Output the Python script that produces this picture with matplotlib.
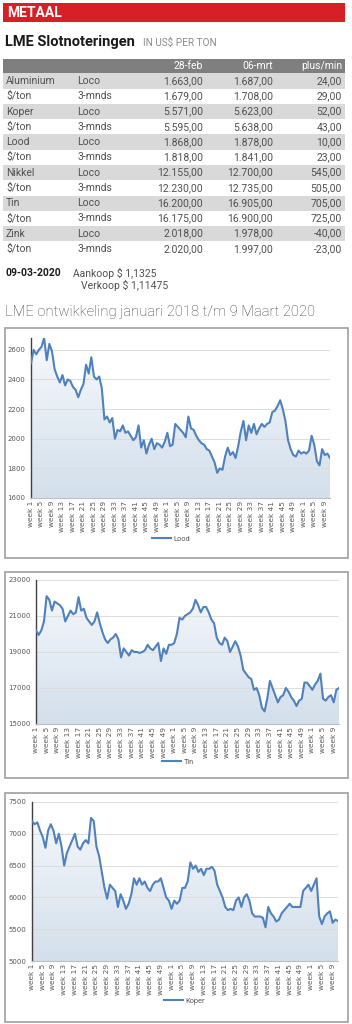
import matplotlib
matplotlib.use('Agg')
import matplotlib.pyplot as plt
import numpy as np
from matplotlib.patches import Rectangle
from matplotlib.lines import Line2D
from matplotlib.colors import LinearSegmentedColormap

# table data
metals = ['Aluminium', '$/ton', 'Koper', '$/ton', 'Lood', '$/ton',
          'Nikkel', '$/ton', 'Tin', '$/ton', 'Zink', '$/ton']
kinds = ['Loco', '3-mnds'] * 6
feb28 = ['1.663,00', '1.679,00', '5.571,00', '5.595,00', '1.868,00', '1.818,00',
         '12.155,00', '12.230,00', '16.200,00', '16.175,00', '2.018,00', '2.020,00']
mrt06 = ['1.687,00', '1.708,00', '5.623,00', '5.638,00', '1.878,00', '1.841,00',
         '12.700,00', '12.735,00', '16.905,00', '16.900,00', '1.978,00', '1.997,00']
plusmin = ['24,00', '29,00', '52,00', '43,00', '10,00', '23,00',
           '545,00', '505,00', '705,00', '725,00', '-40,00', '-23,00']

# weekly LME prices, week 1 2018 .. week 11 2020
lood = [2510, 2600, 2570, 2600, 2620, 2680, 2530, 2640, 2590, 2470,
        2420, 2380, 2430, 2360, 2400, 2390, 2350, 2330, 2280, 2330,
        2370, 2500, 2440, 2550, 2420, 2400, 2420, 2340, 2130, 2150,
        2110, 2140, 2000, 2060, 2050, 2090, 2040, 2050, 2020, 1990,
        2010, 2090, 1940, 1990, 1900, 1960, 2000, 1930, 1970, 1960,
        1940, 1980, 2040, 1950, 1960, 2100, 2080, 2060, 2040, 2010,
        2150, 2070, 2060, 2020, 1990, 1970, 1960, 1930, 1920, 1880,
        1840, 1770, 1800, 1790, 1880, 1940, 1890, 1910, 1870, 1950,
        2050, 2120, 1990, 2090, 2040, 2100, 2030, 2070, 2100, 2080,
        2100, 2110, 2180, 2190, 2220, 2260, 2200, 2120, 1990, 1930,
        1890, 1880, 1920, 1900, 1910, 1900, 1920, 2020, 1960, 1850,
        1820, 1930, 1890, 1900, 1870]
tin = [20200, 19950, 20200, 20700, 22100, 21900, 21300, 21800, 21700, 21600,
       21400, 20700, 21000, 21300, 21100, 21200, 22050, 21300, 21400, 20900,
       20700, 20500, 20700, 21200, 20600, 20100, 19700, 19500, 19700, 19800,
       20000, 19700, 18700, 19200, 19000, 18800, 19100, 19000, 19000, 18950,
       19000, 19100, 19400, 19200, 19100, 19300, 19500, 18500, 19200, 18900,
       19400, 19400, 19500, 20000, 20900, 20800, 21000, 21100, 21200, 21400,
       21900, 21600, 21200, 21500, 21500, 21200, 20800, 20600, 19800, 19500,
       19400, 19800, 19600, 19000, 19300, 19600, 19300, 18800, 18000, 17800,
       17600, 17500, 16900, 17000, 16600, 15900, 15700, 16400, 17400, 17000,
       16600, 16200, 16500, 16600, 17000, 16800, 16500, 16300, 16000, 16300,
       16400, 17300, 17300, 17100, 16900, 17200, 17400, 17800, 16400, 16300,
       16500, 16600, 16200, 16900, 17000]
koper = [7200, 7150, 7180, 7050, 6950, 6780, 7050, 7150, 7050, 6850,
         7000, 6800, 6500, 6700, 6800, 6900, 7000, 6800, 6750, 6850,
         6900, 6850, 7250, 7200, 6800, 6650, 6400, 6150, 5980, 6200,
         6150, 6100, 5850, 6050, 5950, 5820, 5900, 6050, 6300, 6200,
         6300, 6200, 6250, 6150, 6100, 6200, 6250, 6250, 6300, 6150,
         6000, 5950, 5820, 5950, 5900, 5950, 6150, 6150, 6250, 6550,
         6450, 6500, 6400, 6450, 6350, 6450, 6450, 6480, 6420, 6200,
         6100, 6000, 5850, 5800, 5820, 5800, 5950, 6000, 5850, 6000,
         6050, 5950, 5750, 5700, 5700, 5700, 5680, 5530, 5850, 5750,
         5700, 5620, 5650, 5750, 5800, 5850, 5900, 5850, 5850, 5850,
         5850, 6100, 6150, 6200, 6100, 6200, 6300, 5700, 5580, 5700,
         5750, 5780, 5600, 5650, 5630]

W, H = 352, 1024
plt.rcParams['font.family'] = ['Roboto', 'DejaVu Sans']

fig = plt.figure(figsize=(W / 100, H / 100), dpi=100)


def fx(x):
    return x / W


def fy(y):
    return 1 - y / H


def rect(x0, y0, x1, y1, **kw):
    fig.add_artist(Rectangle((fx(x0), fy(y1)), (x1 - x0) / W, (y1 - y0) / H,
                             transform=fig.transFigure, **kw))


# header
rect(3, 3, 345, 22, color='#d71f26', lw=0)
fig.text(fx(7), fy(13), 'METAAL', color='white', fontsize=10, fontweight='bold', va='center')
fig.text(fx(5), fy(42), 'LME Slotnoteringen', color='#1a1a1a', fontsize=10.5,
         fontweight='bold', va='center')
fig.text(fx(143), fy(43), 'IN US$ PER TON', color='#8c8c8c', fontsize=7.2, va='center')

# table
rh = 15.27
rect(3, 58.5, 345, 73.5, color='#7f7f7f', lw=0)
for c, t in zip([203, 273, 342], ['28-feb', '06-mrt', 'plus/min']):
    fig.text(fx(c), fy(66), t, color='white', fontsize=7.5, ha='right', va='center')
for i in range(len(metals)):
    yc = 81 + i * rh
    if i % 2 == 0:
        rect(3, yc - rh / 2, 345, yc + rh / 2, color='#d9d9d9', lw=0)
    kw = dict(color='#505050', fontsize=7.5, va='center')
    fig.text(fx(6), fy(yc), metals[i], **kw)
    fig.text(fx(77), fy(yc), kinds[i], **kw)
    fig.text(fx(203), fy(yc), feb28[i], ha='right', **kw)
    fig.text(fx(273), fy(yc), mrt06[i], ha='right', **kw)
    fig.text(fx(342), fy(yc), plusmin[i], ha='right', **kw)

fig.text(fx(5), fy(273), '09-03-2020', color='#1a1a1a', fontsize=7.5, fontweight='bold', va='center')
fig.text(fx(73), fy(273), 'Aankoop $ 1,1325', color='#505050', fontsize=7.5, va='center')
fig.text(fx(81), fy(285), 'Verkoop $ 1,11475', color='#505050', fontsize=7.5, va='center')

fig.text(fx(5), fy(312), 'LME ontwikkeling januari 2018 t/m 9 Maart 2020', color='#404040',
         fontsize=10.6, fontweight='light', va='center')

cmap = LinearSegmentedColormap.from_list('fill', ['#d3dfeb', '#f7f9fc'])
line_col = '#4f81bd'

ticks = list(range(0, 113, 4))
labels = ['week %d' % ((t % 52) + 1) for t in ticks]


def chart(box, area, vals, ylim, step, name, leg):
    bx0, by0, bx1, by1 = box
    rect(bx0, by0, bx1, by1, fill=False, ec='#a0a0a0', lw=1.2)
    left, top, right, bottom = area
    ax = fig.add_axes([fx(left), fy(bottom), (right - left) / W, (bottom - top) / H])
    x = np.arange(len(vals))
    poly = ax.fill_between(x, vals, ylim[0], color='none', lw=0)
    grad = np.linspace(0, 1, 100).reshape(-1, 1)
    img = ax.imshow(grad, extent=[0, len(vals) - 1, ylim[0], ylim[1]], origin='lower',
                    aspect='auto', cmap=cmap, zorder=1)
    img.set_clip_path(poly.get_paths()[0], ax.transData)
    ax.plot(x, vals, color=line_col, lw=1.5, zorder=3)
    ax.set_xlim(0, len(vals) - 1)
    ax.set_ylim(*ylim)
    ax.set_yticks(np.arange(ylim[0], ylim[1] + 1, step))
    ax.grid(axis='y', color='#dcdcdc', lw=0.7, zorder=0)
    ax.set_xticks(ticks)
    ax.set_xticklabels(labels, rotation=90, fontsize=5.3, color='#595959', family='DejaVu Sans')
    ax.tick_params(axis='y', labelsize=5, labelcolor='#595959', length=0, pad=4)
    ax.tick_params(axis='x', length=0, pad=2)
    for lab in ax.get_yticklabels():
        lab.set_family('DejaVu Sans')
    for s in ['top', 'right']:
        ax.spines[s].set_visible(False)
    ax.spines['left'].set_color('#404040')
    ax.spines['left'].set_linewidth(1.0)
    ax.spines['bottom'].set_color('#bfbfbf')
    ax.set_facecolor('none')
    h = Line2D([], [], color=line_col, lw=1.5)
    ax.legend([h], [name], loc='center', bbox_to_anchor=(fx(leg[0]), fy(leg[1])),
              bbox_transform=fig.transFigure, frameon=False, fontsize=5.3,
              handlelength=2.6, handletextpad=0.3, labelcolor='#595959')
    return ax


chart((5, 328, 348, 558), (31, 338, 330, 498), lood, (1600, 2680), 200, 'Lood', (171, 539))
chart((5, 572, 348, 778), (36, 580, 339, 724), tin, (15000, 23000), 2000, 'Tin', (178, 762))
chart((5, 793, 348, 1022), (32, 802, 338, 961), koper, (5000, 7500), 500, 'Koper', (184, 1001))

fig.savefig('out.png', dpi=100)
